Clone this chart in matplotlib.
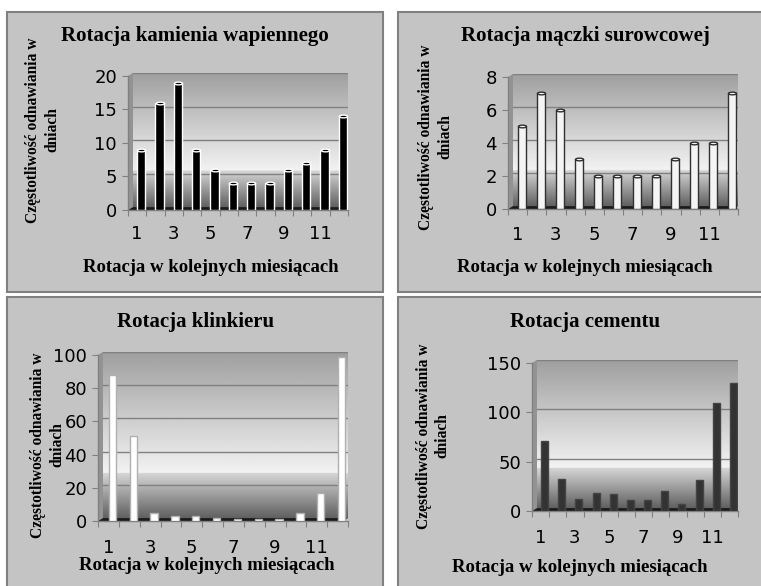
import numpy as np
import matplotlib.pyplot as plt
import matplotlib.transforms as mtransforms
from matplotlib.patches import Rectangle, Polygon
from matplotlib.path import Path

W, H = 761, 586

months = list(range(1, 13))
kamien = [9, 16, 19, 9, 6, 4, 4, 4, 6, 7, 9, 14]
maczka = [5, 7, 6, 3, 2, 2, 2, 2, 3, 4, 4, 7]
klinkier = [88, 51, 5, 3, 3, 2, 1, 1, 1, 5, 17, 99]
cement = [71, 32, 12, 18, 17, 11, 11, 20, 7, 31, 109, 130]

titles = ['Rotacja kamienia wapiennego', 'Rotacja mączki surowcowej',
          'Rotacja klinkieru', 'Rotacja cementu']
ylab = 'Częstotliwość odnawiania w\ndniach'
xlab = 'Rotacja w kolejnych miesiącach'

# layout in pixels: panel box, axes box, title/xlabel/ylabel anchors
panels = [
    dict(data=kamien, box=(7, 12, 383, 292), ax=(128, 73, 348, 210), ymax=20, step=5,
         title=(195, 36), xl=(211, 267), yl=(43, 130), fc='#000000', ec='white', w=0.45,
         cap=True, pad=11),
    dict(data=maczka, box=(398, 12, 770, 292), ax=(508, 74, 738, 209), ymax=8, step=2,
         title=(585, 36), xl=(585, 268), yl=(436, 137), fc='#f4f4f4', ec='#303030', w=0.42,
         cap=True, pad=12),
    dict(data=klinkier, box=(7, 297, 383, 600), ax=(98, 352, 348, 521), ymax=100, step=20,
         title=(196, 322), xl=(207, 566), yl=(48, 445), fc='#ffffff', ec='#b0b0b0', w=0.35,
         cap=False, pad=13),
    dict(data=cement, box=(398, 297, 770, 600), ax=(532, 360, 738, 511), ymax=150, step=50,
         title=(585, 322), xl=(580, 568), yl=(433, 436), fc='#333333', ec='#444444', w=0.4,
         cap=False, pad=13),
]

fig = plt.figure(figsize=(W / 100, H / 100), dpi=100)
fig.patch.set_facecolor('white')

serif = 'Liberation Serif'

# wall gradient, top to bottom
t = np.linspace(0, 1, 300)
g = np.where(t < 0.73, 0.62 + 0.33 * t / 0.73, 0.84 - 0.46 * (t - 0.73) / 0.27)
grad = g.reshape(-1, 1)

ellipse = Path.unit_circle().transformed(mtransforms.Affine2D().scale(1.0, 0.33))

for i, p in enumerate(panels):
    x0, y0, x1, y1 = p['box']
    fig.patches.append(Rectangle((x0 / W, 1 - y1 / H), (x1 - x0) / W, (y1 - y0) / H,
                                 transform=fig.transFigure, fc='#c4c4c4', ec='#808080',
                                 lw=1.5, zorder=-5))
    a0, b0, a1, b1 = p['ax']
    ax = fig.add_axes([a0 / W, 1 - b1 / H, (a1 - a0) / W, (b1 - b0) / H], zorder=2)
    ax.set_facecolor('none')
    axw, axh = a1 - a0, b1 - b0
    ymax = p['ymax']
    dyd = 3.0 / axh * ymax
    top = ymax + dyd
    dxd = 5.0 / axw * 12
    ax.set_xlim(-0.5, 11.5)
    ax.set_ylim(0, top)

    # back wall
    ax.imshow(grad, extent=(-0.5 + dxd, 11.5, dyd, top), aspect='auto', cmap='gray',
              vmin=0, vmax=1, zorder=0, interpolation='bilinear')
    # side wall
    ax.add_patch(Polygon([(-0.5, 0), (-0.5 + dxd, dyd), (-0.5 + dxd, top), (-0.5, ymax)],
                         closed=True, fc='#939393', ec='none', zorder=1))
    # floor
    ax.add_patch(Polygon([(-0.5, 0), (11.5 - dxd, 0), (11.5, dyd), (-0.5 + dxd, dyd)],
                         closed=True, fc='#1a1a1a', ec='none', zorder=1))
    # gridlines on back wall
    yt = np.arange(0, ymax + 0.1, p['step'])
    for v in yt[1:]:
        ax.plot([-0.5 + dxd, 11.5], [v + dyd, v + dyd], color='#808080', lw=1, zorder=2)

    xs = np.arange(12) + dxd * 0.8
    ax.bar(xs, p['data'], width=p['w'], color=p['fc'], edgecolor=p['ec'], lw=1, zorder=3)
    if p['cap']:
        bw_pt = p['w'] / 12 * axw * 0.72
        ax.scatter(xs, p['data'], marker=ellipse, s=bw_pt ** 2, c=p['fc'],
                   edgecolors=p['ec'], linewidths=1, zorder=4, clip_on=False)

    for s in ['top', 'right']:
        ax.spines[s].set_visible(False)
    for s in ['left', 'bottom']:
        ax.spines[s].set_color('#808080')
        ax.spines[s].set_linewidth(1)
    ax.spines['left'].set_bounds(0, ymax)

    ax.set_yticks(yt)
    ax.set_yticklabels([str(int(v)) for v in yt], fontsize=13, fontfamily='DejaVu Sans')
    ax.tick_params(axis='y', length=4, color='#808080', pad=4)
    ax.set_xticks(np.arange(-0.5, 12, 1))
    ax.set_xticklabels([''] * 13)
    ax.tick_params(axis='x', which='major', length=4, color='#808080')
    ax.set_xticks(np.arange(0, 12, 2), minor=True)
    ax.set_xticklabels([str(m) for m in months[::2]], minor=True, fontsize=13,
                       fontfamily='DejaVu Sans')
    ax.tick_params(axis='x', which='minor', length=0, pad=p['pad'])

    tx, ty = p['title']
    fig.text(tx / W, 1 - ty / H, titles[i], ha='center', va='center',
             fontsize=15, fontweight='bold', fontfamily=serif)
    lx, ly = p['xl']
    fig.text(lx / W, 1 - ly / H, xlab, ha='center', va='center', fontsize=13.5,
             fontweight='bold', fontfamily=serif)
    vx, vy = p['yl']
    fig.text(vx / W, 1 - vy / H, ylab, ha='center', va='center', rotation=90,
             fontsize=11.2, fontweight='bold', fontfamily=serif, linespacing=1.25)

fig.savefig('out.png', dpi=100)
